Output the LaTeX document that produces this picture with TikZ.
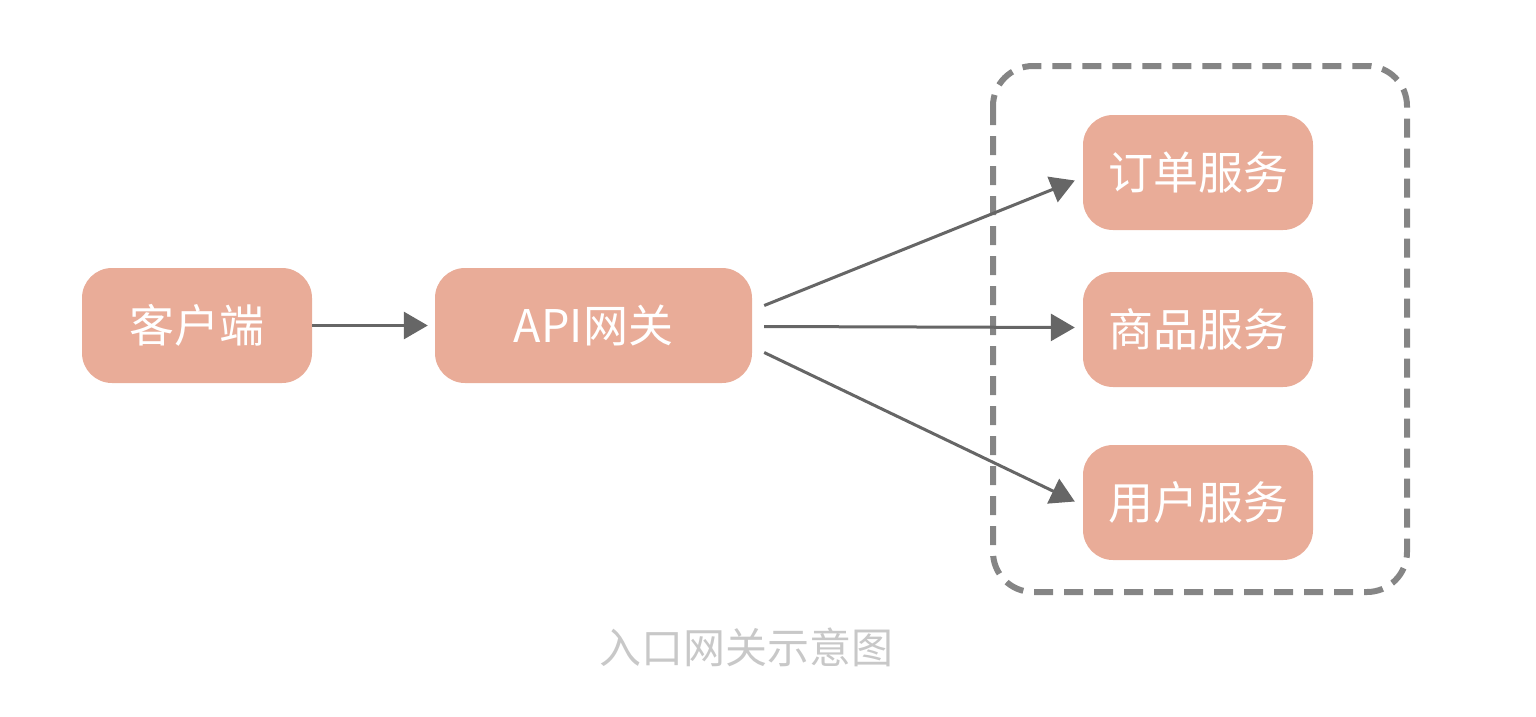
\documentclass[tikz,border=0pt]{standalone}
\usepackage{fontspec}
\newfontfamily\cjk{Noto Sans CJK SC}
\usetikzlibrary{arrows.meta}
\definecolor{boxfill}{HTML}{E9AC98}
\definecolor{arrowgray}{HTML}{666666}
\definecolor{dashgray}{HTML}{858585}
\definecolor{capgray}{HTML}{C8C8C8}
\tikzset{
  svc/.style={fill=boxfill, draw=none, rounded corners=30pt, minimum height=115pt,
    text=white, font=\cjk\fontsize{45}{52}\selectfont, inner sep=0pt},
  conn/.style={draw=arrowgray, line width=3pt,
    -{Triangle[length=24pt,width=27pt]}},
  group/.style={draw=dashgray, line width=6pt, dash pattern=on 19pt off 11pt, rounded corners=40pt}
}
\begin{document}
\begin{tikzpicture}[x=1pt,y=-1pt]
\useasboundingbox (0,0) rectangle (1536,716);
\node[svc, minimum width=230pt] (client) at (197,325.5) {客户端};
\node[svc, minimum width=317pt] (api) at (593.5,325.5) {API网关};
\node[svc, minimum width=230pt] (order) at (1198,172.5) {订单服务};
\node[svc, minimum width=230pt] (goods) at (1198,329.5) {商品服务};
\node[svc, minimum width=230pt] (user) at (1198,502.5) {用户服务};
\draw[group] (993,66) rectangle (1407,592);
\draw[conn] (client.east) -- ([xshift=-7pt]api.west);
\draw[conn] ([xshift=12pt,yshift=20pt]api.east) -- ([xshift=-8pt,yshift=-8pt]order.west);
\draw[conn] ([xshift=12pt,yshift=-1pt]api.east) -- ([xshift=-8pt,yshift=2pt]goods.west);
\draw[conn] ([xshift=12pt,yshift=-27pt]api.east) -- ([xshift=-8pt,yshift=1pt]user.west);
\node[text=capgray, font=\cjk\fontsize{42}{50}\selectfont] (cap) at (746,647) {入口网关示意图};
\end{tikzpicture}
\end{document}
